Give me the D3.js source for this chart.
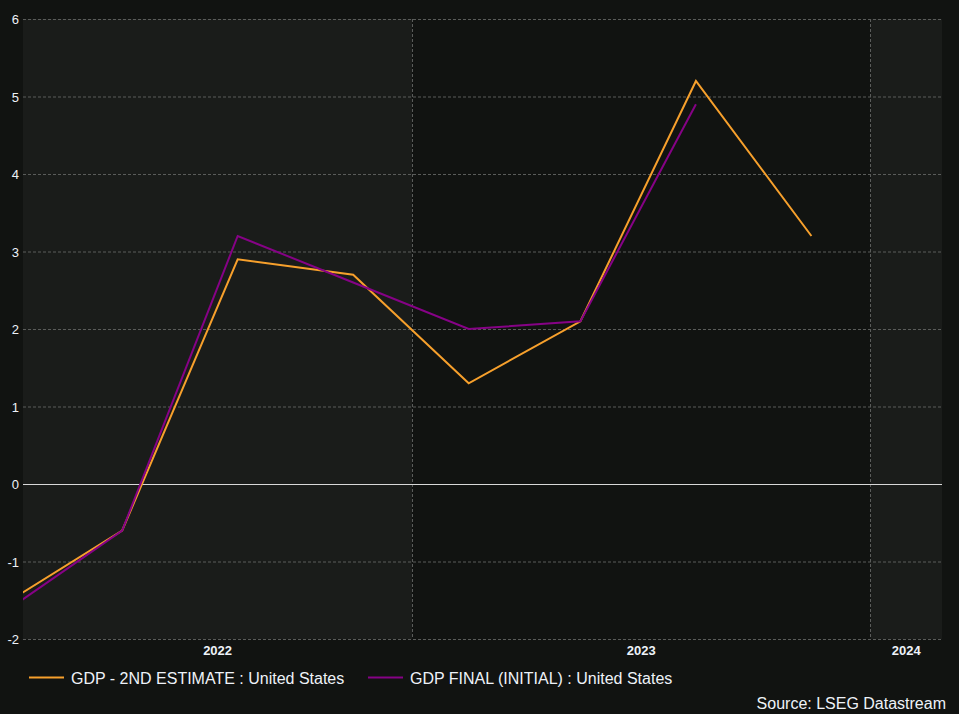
<!DOCTYPE html>
<html><head><meta charset="utf-8">
<script src="https://cdn.jsdelivr.net/npm/d3@7"></script>
<style>
html,body{margin:0;padding:0;background:#111311;}
svg{display:block;font-family:"Liberation Sans",Arial,sans-serif;}
</style></head>
<body>
<svg id="chart" width="959" height="714"></svg>
<script>
// quarter mid-points
const datesEst = ["2022-02-15","2022-05-15","2022-08-15","2022-11-15","2023-02-15","2023-05-15","2023-08-15","2023-11-15"];
const gdp2ndEstimate = [-1.5,-0.6,2.9,2.7,1.3,2.1,5.2,3.2];
const datesFinal = ["2022-02-15","2022-05-15","2022-08-15","2022-11-15","2023-02-15","2023-05-15","2023-08-15"];
const gdpFinalInitial = [-1.6,-0.6,3.2,2.6,2.0,2.1,4.9];
const yTicks = [-2,-1,0,1,2,3,4,5,6];
const yearLabels = ["2022","2023","2024"];
const seriesNames = ["GDP - 2ND ESTIMATE : United States","GDP FINAL (INITIAL) : United States"];
const colors = ["#f7a02c","#860286"];

(function(){
const svg = d3.select("#chart");
const W = 959, H = 714;
const pL = 23, pR = 942, pT = 19, pB = 639;
const parse = d3.utcParse("%Y-%m-%d");
const x = d3.scaleUtc().domain([parse("2022-02-25"), parse("2024-02-27")]).range([pL, pR]);
const y = d3.scaleLinear().domain([-2, 6]).range([pB, pT]);

svg.append("rect").attr("width",W).attr("height",H).attr("fill","#111311");

const d0 = x.domain()[0], d1 = x.domain()[1];
const bands = yearLabels.map((yr,i) => {
  const s = new Date(Date.UTC(+yr,0,1)), e = new Date(Date.UTC(+yr+1,0,1));
  return {yr, s: s < d0 ? d0 : s, e: e > d1 ? d1 : e, i};
});
const clipId = "plotclip";
svg.append("clipPath").attr("id",clipId).append("rect")
  .attr("x",pL).attr("y",pT).attr("width",pR-pL).attr("height",pB-pT);

svg.append("g").selectAll("rect").data(bands).join("rect")
  .attr("x", d => x(d.s)).attr("width", d => x(d.e)-x(d.s))
  .attr("y", pT).attr("height", pB-pT)
  .attr("fill", d => d.i % 2 === 0 ? "#1a1c1a" : "#111311");

svg.append("g").selectAll("line").data(yTicks.filter(v => v !== 0)).join("line")
  .attr("x1", pL).attr("x2", pR+1)
  .attr("y1", d => y(d)+0.5).attr("y2", d => y(d)+0.5)
  .attr("stroke","#5a5c5a").attr("stroke-width",1).attr("stroke-dasharray","3,2");
svg.append("g").selectAll("line").data(bands.filter(d => d.i > 0)).join("line")
  .attr("x1", d => Math.round(x(d.s))+0.5).attr("x2", d => Math.round(x(d.s))+0.5)
  .attr("y1", pT).attr("y2", pB)
  .attr("stroke","#5a5c5a").attr("stroke-width",1).attr("stroke-dasharray","3,2");
svg.append("line").attr("x1",pL).attr("x2",pR)
  .attr("y1",y(0)+0.5).attr("y2",y(0)+0.5).attr("stroke","#d8d8d8").attr("stroke-width",1);

svg.append("g").selectAll("text").data(yTicks).join("text")
  .attr("x", 19).attr("y", d => y(d)+5)
  .attr("text-anchor","end").attr("font-size",13).attr("fill","#eef2f8")
  .text(d => d);

svg.append("g").selectAll("text").data(bands).join("text")
  .attr("x", d => (x(d.s)+x(d.e))/2).attr("y", 655)
  .attr("text-anchor","middle").attr("font-size",13).attr("font-weight","bold").attr("fill","#eef2f8")
  .text(d => d.yr);

const line = d3.line().x(d => x(d.date)).y(d => y(d.v));
const s1 = datesEst.map((d,i) => ({date: parse(d), v: gdp2ndEstimate[i]}));
const s2 = datesFinal.map((d,i) => ({date: parse(d), v: gdpFinalInitial[i]}));
const lg = svg.append("g").attr("clip-path",`url(#${clipId})`);
lg.append("path").datum(s1).attr("d",line).attr("fill","none").attr("stroke",colors[0]).attr("stroke-width",2);
lg.append("path").datum(s2).attr("d",line).attr("fill","none").attr("stroke",colors[1]).attr("stroke-width",2);

const legX = [29, 368];
seriesNames.forEach((n,i) => {
  svg.append("line").attr("x1",legX[i]).attr("x2",legX[i]+35).attr("y1",677.5).attr("y2",677.5)
    .attr("stroke",colors[i]).attr("stroke-width",2);
  svg.append("text").attr("x",legX[i]+42).attr("y",684).attr("font-size",16).attr("fill","#eef2f8").text(n);
});
svg.append("text").attr("x",946).attr("y",709).attr("text-anchor","end").attr("font-size",16)
  .attr("fill","#eef2f8").text("Source: LSEG Datastream");
})();
</script>
</body></html>
